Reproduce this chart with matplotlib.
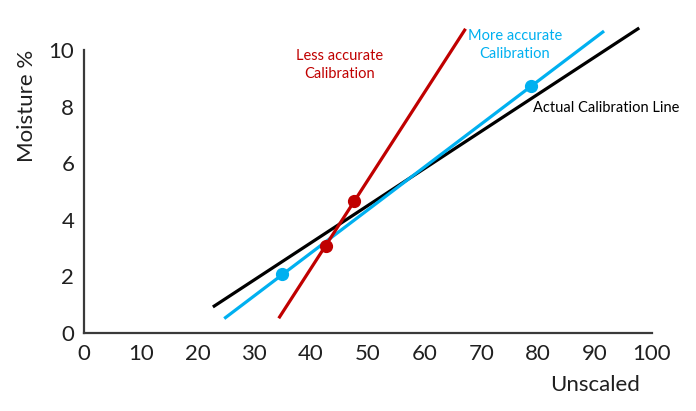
import matplotlib.pyplot as plt

# line end points (Unscaled, Moisture %)
actual_x = [22.7, 97.8]
actual_y = [0.92, 10.78]

more_x = [24.7, 91.6]
more_y = [0.51, 10.67]
more_pts_x = [34.9, 78.7]
more_pts_y = [2.08, 8.73]

less_x = [34.3, 67.2]
less_y = [0.52, 10.75]
less_pts_x = [42.6, 47.6]
less_pts_y = [3.08, 4.65]

xticks = [0, 10, 20, 30, 40, 50, 60, 70, 80, 90, 100]
yticks = [0, 2, 4, 6, 8, 10]

red = '#C00000'
blue = '#00B0F0'

plt.rcParams['font.family'] = ['Lato', 'DejaVu Sans']

fig = plt.figure(figsize=(6.96, 4.11), dpi=100)
ax = fig.add_axes([0.1207, 0.1898, 0.8157, 0.6885])

ax.plot(actual_x, actual_y, '-', color='black', lw=2.3, solid_capstyle='butt', clip_on=False)
ax.plot(more_x, more_y, '-', color=blue, lw=2.3, solid_capstyle='butt', clip_on=False)
ax.plot(more_pts_x, more_pts_y, 'o', color=blue, ms=8.5, clip_on=False)
ax.plot(less_x, less_y, '-', color=red, lw=2.3, solid_capstyle='butt', clip_on=False)
ax.plot(less_pts_x, less_pts_y, 'o', color=red, ms=8.5, clip_on=False)

ax.text(45.0, 9.47, 'Less accurate\nCalibration', color=red, fontsize=10.5,
        ha='center', va='center', linespacing=1.4)
ax.text(75.9, 10.17, 'More accurate\nCalibration', color=blue, fontsize=10.5,
        ha='center', va='center', linespacing=1.4)
ax.text(79.1, 7.96, 'Actual Calibration Line', color='black', fontsize=10.5,
        ha='left', va='center')

ax.set_xlim(0, 100)
ax.set_ylim(0, 10)
ax.set_xticks(xticks)
ax.set_yticks(yticks)
ax.tick_params(length=0, labelsize=16, colors='#202020')
ax.tick_params(axis='x', pad=8)
ax.tick_params(axis='y', pad=7)

for s in ['top', 'right']:
    ax.spines[s].set_visible(False)
for s in ['left', 'bottom']:
    ax.spines[s].set_color('#3a3a3a')
    ax.spines[s].set_linewidth(1.6)

fig.text(0.039, 0.742, 'Moisture %', rotation=90, fontsize=16,
         ha='center', va='center', color='#202020')
fig.text(0.855, 0.063, 'Unscaled', fontsize=16, ha='center', va='center',
         color='#202020')

fig.savefig('out.png', dpi=100)
